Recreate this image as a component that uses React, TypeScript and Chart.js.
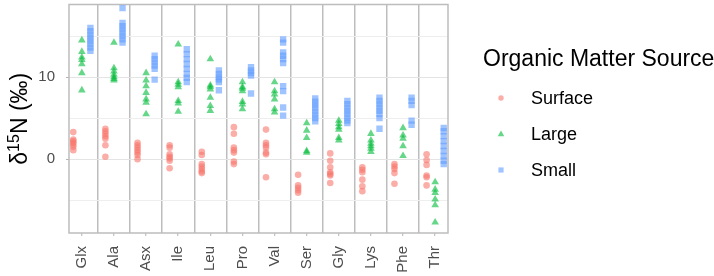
import React, { useEffect, useRef } from 'react';
import { Chart, registerables } from 'chart.js';

Chart.register(...registerables);

const FONT = '"Liberation Sans", Arial, Helvetica, sans-serif';

const categories = ['Glx', 'Ala', 'Asx', 'Ile', 'Leu', 'Pro', 'Val', 'Ser', 'Gly', 'Lys', 'Phe', 'Thr'];

const surfaceValues: number[][] = [
  [3.3, 2.4, 2.2, 2.0, 1.8, 1.5, 1.1],
  [3.7, 3.4, 3.1, 2.8, 2.5, 1.7, 0.3],
  [2.0, 1.7, 1.4, 1.1, 0.8, 0.5, 0.0],
  [1.7, 1.4, 0.6, 0.3, 0.1, -0.2, -1.1],
  [0.9, 0.5, -0.6, -0.9, -1.2, -1.5, -1.7],
  [3.9, 3.1, 1.4, 1.1, 0.8, -0.3, -0.6],
  [3.6, 2.0, 1.7, 1.4, 0.8, 0.6, -2.2],
  [-1.9, -3.2, -3.5, -3.8, -4.1],
  [0.7, -0.2, -1.0, -1.6, -1.8, -2.0, -2.9],
  [-1.0, -1.3, -1.6, -2.5, -3.3, -3.9],
  [-0.6, -0.9, -1.2, -1.7, -3.0],
  [0.6, -0.1, -0.7, -2.0, -2.2, -3.2],
];

const largeValues: number[][] = [
  [14.5, 13.1, 12.4, 12.1, 11.6, 10.5, 8.4],
  [14.2, 11.1, 10.7, 10.3, 10.0, 9.8, 9.6],
  [10.5, 9.6, 8.9, 8.1, 7.3, 6.9, 5.5],
  [14.0, 9.4, 9.1, 8.8, 7.1, 6.8, 5.8],
  [12.2, 9.0, 8.8, 8.5, 7.5, 6.5, 5.9],
  [9.4, 8.8, 8.6, 8.3, 7.0, 6.7, 6.1],
  [9.4, 8.3, 7.9, 7.3, 6.1, 5.7],
  [4.4, 3.5, 2.6, 1.0, 0.8],
  [4.7, 4.3, 3.9, 3.6, 2.6, 2.3],
  [3.1, 2.3, 1.9, 1.6, 1.3, 0.9],
  [3.8, 2.9, 2.5, 1.6, 0.4],
  [-2.8, -3.7, -4.1, -4.9, -5.6, -7.7],
];

const smallValues: number[][] = [
  [16.0, 15.6, 15.2, 14.8, 14.4, 14.0, 13.6, 13.2],
  [18.4, 16.6, 16.2, 15.8, 15.4, 15.0, 14.6, 14.2],
  [12.6, 12.2, 11.8, 11.4, 11.0, 9.7],
  [13.4, 12.8, 12.2, 11.6, 11.0, 10.4, 9.9, 9.4],
  [10.8, 10.4, 10.0, 9.7, 9.4, 8.4],
  [11.2, 10.8, 10.5, 10.2, 8.0],
  [14.6, 14.2, 13.0, 12.6, 12.2, 11.7, 8.9, 8.3, 6.3, 5.3],
  [7.4, 7.0, 6.6, 6.2, 5.8, 5.4, 5.0, 4.6],
  [7.1, 6.7, 6.3, 5.9, 5.5, 5.1, 4.7, 4.4],
  [7.5, 7.1, 6.7, 6.3, 5.9, 5.5, 5.0, 3.7],
  [7.5, 7.1, 6.6, 4.7, 4.2],
  [3.8, 3.4, 2.8, 2.2, 1.6, 1.0, 0.4, -0.2, -0.6],
];

const yGridTicks = [-5, 0, 5, 10, 15];
const yLabelTicks = [0, 10];
const seriesNames = ['Surface', 'Large', 'Small'];
const legendTitle = 'Organic Matter Source';

const DODGE = 0.8;

const groups = [
  { label: seriesNames[0], values: surfaceValues, color: 'rgba(248,118,109,0.6)', style: 'circle', radius: 3.3 },
  { label: seriesNames[1], values: largeValues, color: 'rgba(0,186,56,0.6)', style: 'triangle', radius: 4.4 },
  { label: seriesNames[2], values: smallValues, color: 'rgba(97,156,255,0.6)', style: 'rect', radius: 4.5 },
];

const borderColor = '#BDBDBD';

const panelPlugin = {
  id: 'panelBorder',
  beforeDatasetsDraw(chart: any) {
    const { ctx, chartArea } = chart;
    ctx.save();
    ctx.strokeStyle = borderColor;
    ctx.lineWidth = 1.5;
    ctx.strokeRect(chartArea.left, chartArea.top, chartArea.right - chartArea.left, chartArea.bottom - chartArea.top);
    ctx.restore();
  },
};

const yTitlePlugin = {
  id: 'yTitle',
  afterDraw(chart: any) {
    const { ctx, chartArea } = chart;
    const big = 23;
    const small = 16;
    ctx.save();
    ctx.fillStyle = '#000000';
    ctx.textBaseline = 'alphabetic';
    ctx.textAlign = 'left';
    ctx.font = `${big}px ${FONT}`;
    const w1 = ctx.measureText('δ').width;
    const w3 = ctx.measureText('N (‰)').width;
    ctx.font = `${small}px ${FONT}`;
    const w2 = ctx.measureText('15').width;
    const total = w1 + w2 + w3;
    const cy = (chartArea.top + chartArea.bottom) / 2;
    ctx.translate(26.5, cy);
    ctx.rotate(-Math.PI / 2);
    let x = -total / 2;
    ctx.font = `${big}px ${FONT}`;
    ctx.fillText('δ', x, 0);
    x += w1;
    ctx.font = `${small}px ${FONT}`;
    ctx.fillText('15', x, -8);
    x += w2;
    ctx.font = `${big}px ${FONT}`;
    ctx.fillText('N (‰)', x, 0);
    ctx.restore();
  },
};

export default function App() {
  const canvasRef = useRef<HTMLCanvasElement>(null);

  useEffect(() => {
    document.body.style.margin = '0';
    const datasets = groups.map((g, gi) => ({
      label: g.label,
      data: g.values.flatMap((vals, ci) =>
        vals.map((v) => ({ x: ci + 1 + ((gi - 1) * DODGE) / 3, y: v }))
      ),
      pointStyle: g.style,
      pointRadius: g.radius,
      pointHoverRadius: g.radius,
      backgroundColor: g.color,
      borderColor: 'rgba(0,0,0,0)',
      borderWidth: 0,
      showLine: false,
    }));

    const xTickValues: number[] = [];
    categories.forEach((_, i) => {
      xTickValues.push(i + 1);
      if (i < categories.length - 1) xTickValues.push(i + 1.5);
    });

    const chart = new Chart(canvasRef.current as HTMLCanvasElement, {
      type: 'scatter',
      data: { datasets: datasets as any },
      plugins: [panelPlugin, yTitlePlugin],
      options: {
        responsive: false,
        animation: false,
        devicePixelRatio: 1,
        layout: { padding: { left: 0, top: 1, right: 266, bottom: 0 } },
        plugins: { legend: { display: false }, tooltip: { enabled: false } },
        events: [],
        scales: {
          x: {
            type: 'linear',
            min: 0.6,
            max: 12.4,
            afterBuildTicks: (s: any) => {
              s.ticks = xTickValues.map((v) => ({ value: v }));
            },
            afterFit: (s: any) => {
              s.height = 43;
              s.paddingLeft = 0;
              s.paddingRight = 0;
              s.paddingTop = 0;
              s.paddingBottom = 0;
            },
            border: { display: false },
            grid: {
              color: (c: any) => (c.tick && !Number.isInteger(c.tick.value) ? borderColor : 'rgba(0,0,0,0)'),
              lineWidth: 1.5,
              drawTicks: true,
              tickLength: 3,
              tickColor: (c: any) => (c.tick && Number.isInteger(c.tick.value) ? '#B3B3B3' : 'rgba(0,0,0,0)'),
              tickWidth: 1,
            },
            ticks: {
              autoSkip: false,
              minRotation: 90,
              maxRotation: 90,
              padding: 10,
              color: '#4D4D4D',
              font: { size: 15, family: FONT },
              callback: (v: any) => (Number.isInteger(v) ? categories[v - 1] : ''),
            },
          },
          y: {
            type: 'linear',
            min: -9,
            max: 18.85,
            afterBuildTicks: (s: any) => {
              s.ticks = yGridTicks.map((v) => ({ value: v }));
            },
            afterFit: (s: any) => {
              s.width = 69;
              s.paddingTop = 0;
              s.paddingBottom = 0;
              s.paddingLeft = 0;
              s.paddingRight = 0;
            },
            border: { display: false },
            grid: {
              color: (c: any) => (c.tick && yLabelTicks.includes(c.tick.value) ? '#E4E4E4' : '#EEEEEE'),
              lineWidth: 1,
              drawTicks: true,
              tickLength: 3,
              tickColor: (c: any) => (c.tick && yLabelTicks.includes(c.tick.value) ? '#B3B3B3' : 'rgba(0,0,0,0)'),
            },
            ticks: {
              padding: 11,
              color: '#4D4D4D',
              font: { size: 15, family: FONT },
              callback: (v: any) => (yLabelTicks.includes(v) ? String(v) : ''),
            },
          },
        },
      } as any,
    });
    return () => chart.destroy();
  }, []);

  const itemCenters = [97.7, 133.5, 169.5];
  const labelFont = 18;
  const titleFont = 23;

  return (
    <div
      style={{
        position: 'relative',
        width: 714,
        height: 276,
        overflow: 'hidden',
        background: '#ffffff',
        fontFamily: FONT,
      }}
    >
      <canvas
        ref={canvasRef}
        width={714}
        height={276}
        style={{ position: 'absolute', left: 0, top: 0, width: 714, height: 276 }}
      />
      <div
        style={{
          position: 'absolute',
          left: 483,
          top: 58 - 0.4885 * titleFont,
          fontSize: titleFont,
          lineHeight: `${titleFont}px`,
          whiteSpace: 'nowrap',
          color: '#000',
        }}
      >
        {legendTitle}
      </div>
      {groups.map((g, i) => (
        <React.Fragment key={g.label}>
          <svg
            width={12}
            height={12}
            style={{ position: 'absolute', left: 501 - 6, top: itemCenters[i] - 6 }}
          >
            {g.style === 'circle' && <circle cx={6} cy={6} r={2.7} fill={g.color} />}
            {g.style === 'triangle' && <polygon points="6,2.6 9.3,8.3 2.7,8.3" fill={g.color} />}
            {g.style === 'rect' && <rect x={3.4} y={3.4} width={5.2} height={5.2} fill={g.color} />}
          </svg>
          <div
            style={{
              position: 'absolute',
              left: 531,
              top: itemCenters[i] - 0.4885 * labelFont,
              fontSize: labelFont,
              lineHeight: `${labelFont}px`,
              whiteSpace: 'nowrap',
              color: '#000',
            }}
          >
            {g.label}
          </div>
        </React.Fragment>
      ))}
    </div>
  );
}
